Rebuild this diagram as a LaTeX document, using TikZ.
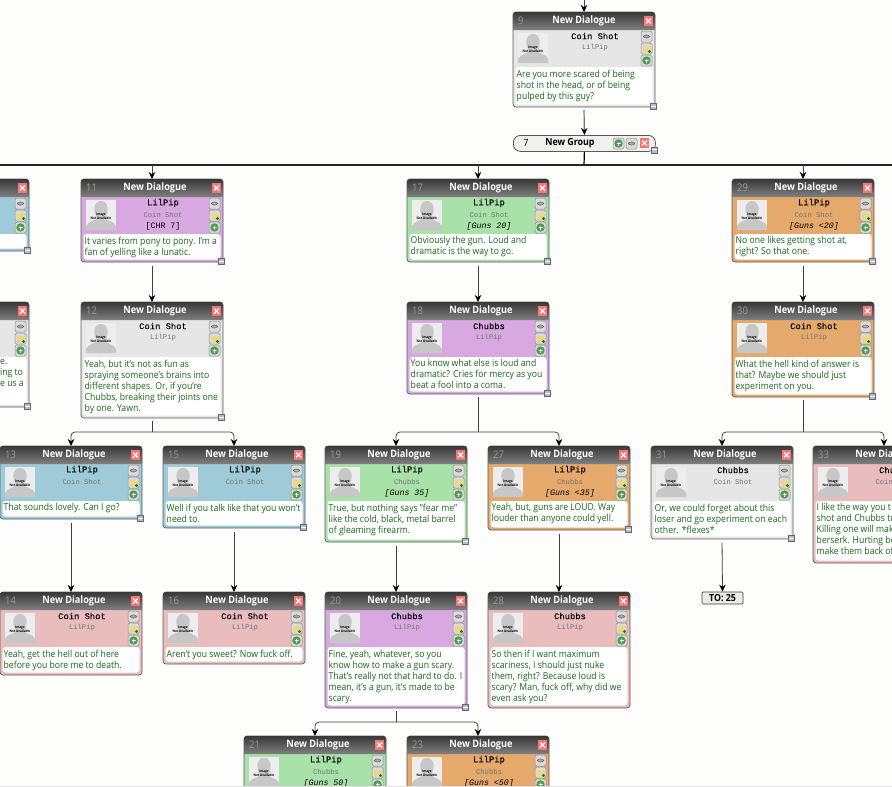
\documentclass[tikz,border=0pt]{standalone}
\usepackage{fontspec}
\setmainfont[FakeStretch=0.9]{Open Sans}
\newfontfamily\monofnt{Liberation Mono}
\newfontfamily\monobold[FakeBold=0.08]{Liberation Mono}
\usetikzlibrary{arrows.meta}
\definecolor{dgray}{HTML}{E6E6E6}
\definecolor{dblue}{HTML}{9FCBD8}
\definecolor{dpurple}{HTML}{D8A9E0}
\definecolor{dgreen}{HTML}{A9E2A9}
\definecolor{dorange}{HTML}{E5A96C}
\definecolor{dpink}{HTML}{E9BDBD}
\definecolor{dtext}{HTML}{1A661A}
\definecolor{pagebg}{HTML}{FDFDFB}
\definecolor{hndfill}{HTML}{B4BCCB}
\definecolor{folderfill}{HTML}{EBD68C}
\tikzset{
  dlgbox/.style = {draw=black!65, line width=0.7pt, rounded corners=3pt, anchor=north west,
    minimum width=142pt, inner sep=0pt, outer sep=0pt},
  dlghead/.style = {top color=black!78, bottom color=black!50},
  dlgnum/.style = {text=black!40, anchor=west, inner sep=0pt, font={\fontsize{10.5}{11}\selectfont}},
  dlgtitle/.style = {text=white, inner sep=0pt, font={\fontsize{10.2}{11}\selectfont\bfseries}},
  dlgspk/.style = {inner sep=0pt, font={\monobold\fontsize{8.8}{10}\selectfont}},
  dlglst/.style = {inner sep=0pt, text=black!55, font={\monofnt\fontsize{7.2}{9}\selectfont}},
  dlgcnd/.style = {inner sep=0pt, font={\monofnt\fontsize{8.3}{10}\selectfont}},
  dlgtxt/.style = {anchor=north west, align=left, inner sep=0pt, text=dtext,
    font={\fontsize{9.6}{11}\selectfont}},
  noimg/.style = {inner sep=0pt, align=center, font={\fontsize{3.4}{3.8}\selectfont\bfseries}},
  hndbox/.style = {draw=black!60, fill=hndfill, line width=0.5pt, minimum size=6pt, inner sep=0pt,
    path picture={\draw[white, line width=1pt] (path picture bounding box.west) -- (path picture bounding box.east);}},
  grpbox/.style = {draw=black!65, line width=0.8pt, fill=black!6, rounded corners=7pt, anchor=north west,
    minimum width=142pt, minimum height=16pt, inner sep=0pt},
  tobox/.style = {draw=black!75, line width=0.7pt, fill=black!8, rounded corners=1pt,
    minimum width=41pt, minimum height=12pt, inner sep=0pt, font={\fontsize{9.8}{10}\selectfont\bfseries}},
  wire/.style = {draw=black!75, line width=0.8pt},
  wirearrow/.style = {wire, -{Stealth[length=7pt,width=6.5pt,inset=2.2pt,black]}},
  btnframe/.style = {draw=black!45, fill=black!14, rounded corners=1.5pt, line width=0.5pt},
  btnlink/.pic = {
    \path[btnframe] (0,0) rectangle (11,11);
    \draw[black!60, fill=black!35, line width=0.5pt] (5.5,5.5) ellipse (3.2pt and 1.6pt);
  },
  btnfolder/.pic = {
    \path[btnframe] (0,0) rectangle (11,11);
    \fill[folderfill] (1.5,2.5) rectangle (9.5,9.5);
    \fill[green!55!black] (8.5,8.5) circle (1.7pt);
  },
  btnplus/.pic = {
    \path[btnframe] (0,0) rectangle (11,11);
    \fill[green!45!black!70!white] (5.5,5.5) circle (4.2pt);
    \draw[white, line width=0.9pt] (3.5,5.5) -- (7.5,5.5) (5.5,3.5) -- (5.5,7.5);
  },
  btnclose/.pic = {
    \fill[red!55!white] (0,0) rectangle (9,10);
    \draw[white, line width=1.2pt] (2,2.5) -- (7,7.5) (2,7.5) -- (7,2.5);
  }
}
\newcommand{\ttloff}{74}
% frame of one dialogue: id, x, y, height, colour
\newcommand{\dlgframe}[5]{
  \begin{scope}[shift={(#2,#3)}]
    \node[dlgbox, fill=#5, minimum height=#4pt] (d#1) at (0,0) {};
    \path[dlghead] (0,18) [rounded corners=3pt] -- (0,0) -- (142,0) [sharp corners] -- (142,18) -- cycle;
    \fill[white, rounded corners=3pt] (2.5,55) rectangle (139.5,#4-2.5);
    \fill[black!7] (5,21) rectangle (35,51);
    \fill[black!22] (5,51) -- (5,47) .. controls (7,42) and (14,42) .. (16,39) .. controls (12,33) and (12,22) .. (20,22)
      .. controls (28,22) and (28,33) .. (24,39) .. controls (26,42) and (33,42) .. (35,47) -- (35,51) -- cycle;
    \pic at (131,4) {btnclose};
    \pic at (128,19) {btnlink};
    \pic at (128,31) {btnfolder};
    \pic at (128,43) {btnplus};
  \end{scope}
}
% whole dialogue: id, x, y, height, colour, speaker, listener, condition, text
\newcommand{\dlg}[9]{
  \dlgframe{#1}{#2}{#3}{#4}{#5}
  \begin{scope}[shift={(#2,#3)}]
    \node[noimg] (img#1) at (20,37) {Image\\Not Available};
    \node[dlgnum] (num#1) at (5,9) {#1};
    \node[dlgtitle] (ttl#1) at (\ttloff,9) {New Dialogue};
    \node[dlgspk] (spk#1) at (82,24) {#6};
    \node[dlglst] (lst#1) at (82,35.5) {#7};
    \node[dlgcnd] (cnd#1) at (82,47.5) {#8};
    \node[dlgtxt] (txt#1) at (3.5,57.5) {#9};
  \end{scope}
}
\begin{document}
\begin{tikzpicture}[x=1pt,y=-1pt]
  \useasboundingbox (0,0) rectangle (892,787);
  \clip (0,0) rectangle (892,787);
  \fill[pagebg] (0,0) rectangle (892,787);

  % the boxes cut off at the left edge
  \dlgframe{a}{-113}{179}{72}{dblue}
  \dlgframe{b}{-113}{302}{105}{dgray}
  \node[dlgtxt] (txtb) at (0,359.5) {e.\\ing to\\e us a};

  {\renewcommand{\ttloff}{71}
  \dlg{9}{513}{12}{95}{dgray}{Coin Shot}{LilPip}{}{Are you more scared of being\\shot in the head, or of being\\pulped by this guy?}}

  \node[grpbox] (grp) at (513,135) {};
  \node[inner sep=0pt, font={\fontsize{10}{11}\selectfont}] (grpnum) at (526,143) {7};
  \node[inner sep=0pt, font={\fontsize{9.8}{11}\selectfont\bfseries}] (grpttl) at (570,143.5) {New Group};
  \pic at (613,138) {btnplus};
  \pic at (626,138) {btnlink};
  \pic at (640,138) {btnclose};

  \dlg{11}{81}{179}{83}{dpurple}{LilPip}{Coin Shot}{[CHR 7]}{It varies from pony to pony. I'm a\\fan of yelling like a lunatic.}
  \dlg{12}{81}{302}{116}{dgray}{Coin Shot}{LilPip}{}{Yeah, but it's not as fun as\\spraying someone's brains into\\different shapes. Or, if you're\\Chubbs, breaking their joints one\\by one. Yawn.}
  \dlg{13}{0}{446}{73}{dblue}{LilPip}{Coin Shot}{}{That sounds lovely. Can I go?}
  \dlg{15}{163}{446}{82}{dblue}{LilPip}{Coin Shot}{}{Well if you talk like that you won't\\need to.}
  \dlg{14}{0}{592}{83}{dpink}{Coin Shot}{LilPip}{}{Yeah, get the hell out of here\\before you bore me to death.}
  \dlg{16}{163}{592}{72}{dpink}{Coin Shot}{LilPip}{}{Aren't you sweet? Now fuck off.}

  \dlg{17}{407}{179}{83}{dgreen}{LilPip}{Coin Shot}{\itshape [Guns 20]}{Obviously the gun. Loud and\\dramatic is the way to go.}
  \dlg{18}{407}{302}{92}{dpurple}{Chubbs}{LilPip}{}{You know what else is loud and\\dramatic? Cries for mercy as you\\beat a fool into a coma.}
  \dlg{19}{325}{446}{96}{dgreen}{LilPip}{Chubbs}{\itshape [Guns 35]}{True, but nothing says "fear me"\\like the cold, black, metal barrel\\of gleaming firearm.}
  \dlg{27}{488}{446}{84}{dorange}{LilPip}{Chubbs}{\itshape [Guns <35]}{Yeah, but, guns are LOUD. Way\\louder than anyone could yell.}
  \dlg{20}{325}{592}{116}{dpurple}{Chubbs}{LilPip}{}{Fine, yeah, whatever, so you\\know how to make a gun scary.\\That's really not that hard to do. I\\mean, it's a gun, it's made to be\\scary.}
  \dlg{28}{488}{592}{116}{dpink}{Chubbs}{LilPip}{}{So then if I want maximum\\scariness, I should just nuke\\them, right? Because loud is\\scary? Man, fuck off, why did we\\even ask you?}
  \dlg{21}{244}{736}{80}{dgreen}{LilPip}{Chubbs}{\itshape [Guns 50]}{}
  \dlg{23}{407}{736}{80}{dorange}{LilPip}{Chubbs}{\itshape [Guns <50]}{}

  \dlg{29}{732}{179}{83}{dorange}{LilPip}{Coin Shot}{\itshape [Guns <20]}{No one likes getting shot at,\\right? So that one.}
  \dlg{30}{732}{302}{95}{dorange}{Coin Shot}{LilPip}{}{What the hell kind of answer is\\that? Maybe we should just\\experiment on you.}
  \dlg{31}{651}{446}{93}{dgray}{Chubbs}{Coin Shot}{}{Or, we could forget about this\\loser and go experiment on each\\other. *flexes*}
  \dlg{33}{813}{446}{117}{dpink}{Chubbs}{Coin Shot}{}{I like the way you t\\shot and Chubbs tu\\Killing one will mak\\berserk. Hurting bo\\make them back of}

  \node[tobox] (to25) at (722.5,598) {TO: 25};

  % resize handles
  \foreach \n in {a,b,9,11,12,13,15,17,18,19,27,20,29,30,31}
    \node[hndbox, xshift=-1.5pt, yshift=1pt] (h\n) at (d\n.south east) {};
  \node[hndbox, xshift=-2pt, yshift=2pt] (hgrp) at (grp.south east) {};

  % connectors
  \coordinate (top9) at (584,0);
  \coordinate (hl) at (0,165);
  \coordinate (hr) at (892,165);
  \coordinate (jgrp) at (584,165);
  \coordinate (j12) at (152,432);
  \coordinate (j18) at (478,432);
  \coordinate (j20) at (396,722);
  \coordinate (j30) at (803,432);

  \draw[wirearrow] (top9) -- (d9.north);
  \draw[wirearrow, black!55, line width=1.2pt, shorten <=3pt] (d9.south) -- (grp.north);
  \draw[black, line width=1.2pt] (grp.south) -- (jgrp);
  \draw[black!85, line width=1.3pt] (hl) -- (hr);
  \foreach \n in {11,17,29}
    \draw[wirearrow] (d\n.north |- jgrp) -- (d\n.north);

  \foreach \a/\b in {11/12,17/18,29/30,13/14,15/16,19/20,27/28}
    \draw[wirearrow, shorten <=3.5pt] (d\a.south) -- (d\b.north);
  \draw[wirearrow, shorten <=3.5pt] (d31.south) -- (to25.north);

  \draw[wire, shorten <=3pt] (d12.south) -- (j12);
  \draw[wire, shorten <=3pt] (d18.south) -- (j18);
  \draw[wire, shorten <=3pt] (d20.south) -- (j20);
  \draw[wire, shorten <=3pt] (d30.south) -- (j30);
  \foreach \j/\t in {j12/d13,j12/d15,j18/d19,j18/d27,j20/d21,j20/d23,j30/d31,j30/d33}
    \draw[wirearrow, rounded corners=4pt] (\j) -| (\t.north);

  \fill[black!12] (0,786) rectangle (892,787);
\end{tikzpicture}
\end{document}
